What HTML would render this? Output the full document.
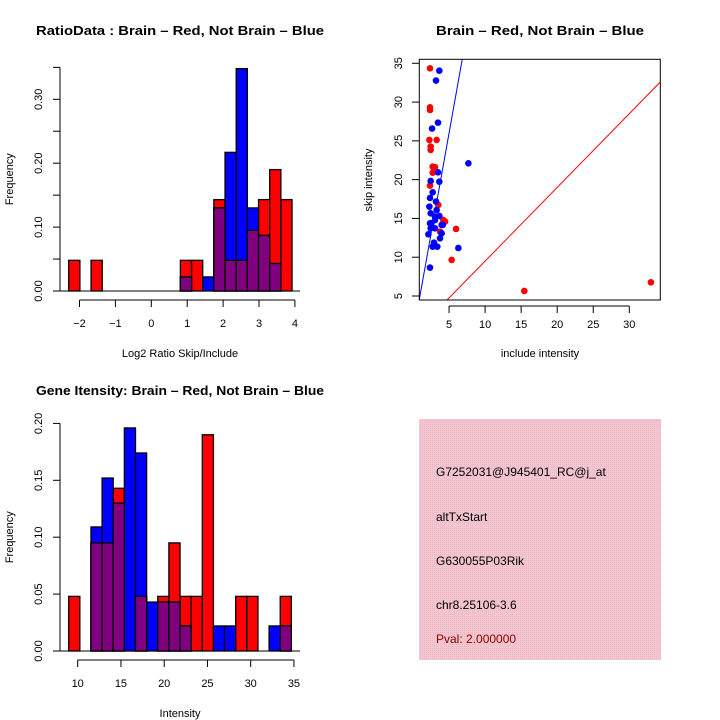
<!DOCTYPE html>
<html><head><meta charset="utf-8"><style>body{margin:0;background:#fff}svg{display:block;font-family:"Liberation Sans",sans-serif}</style></head>
<body>
<svg id="c" width="720" height="720" viewBox="0 0 720 720">
<defs><pattern id="pk" width="2" height="2" patternUnits="userSpaceOnUse"><rect width="2" height="2" fill="#f4c6d0"/><rect width="1" height="1" fill="#eab8c4"/></pattern></defs>
<rect x="419" y="419" width="242" height="241" fill="url(#pk)"/>
<text x="436" y="476" font-size="12">G7252031@J945401_RC@j_at</text>
<text x="436" y="521" font-size="12">altTxStart</text>
<text x="436" y="565" font-size="12">G630055P03Rik</text>
<text x="436" y="609" font-size="12">chr8.25106-3.6</text>
<text x="436" y="643" font-size="12" fill="#8b0000">Pval: 2.000000</text>
</svg>
<script>
// Ratio histogram data
const ratioStart = -2.3, ratioBinW = 0.311;
const ratioRed  = [0.048,0,0.048,0,0,0,0,0,0,0,0.048,0.048,0,0.143,0.048,0.048,0.095,0.143,0.19,0.143];
const ratioBlue = [0,0,0,0,0,0,0,0,0,0,0.022,0,0.022,0.13,0.217,0.348,0.13,0.087,0.043,0];
const ratioXTicks = [-2,-1,0,1,2,3,4];
const ratioYTicks = [0,0.05,0.1,0.15,0.2,0.25,0.3,0.35];
const ratioYLabels = ["0.00","","0.10","","0.20","","0.30",""];
// Intensity histogram data
const intStart = 8.96, intBinW = 1.287;
const intRed  = [0.048,0,0.095,0.095,0.143,0,0.048,0,0.048,0.095,0.048,0.048,0.19,0,0,0.048,0.048,0,0,0.048];
const intBlue = [0,0,0.109,0.152,0.13,0.196,0.174,0.043,0.043,0.043,0.022,0,0,0.022,0.022,0,0,0,0.022,0.022];
const intXTicks = [10,15,20,25,30,35];
const intYTicks = [0,0.05,0.1,0.15,0.2];
const intYLabels = ["0.00","0.05","0.10","0.15","0.20"];
// Scatter data
const redInc  = [2.36,2.36,2.36,2.27,2.45,2.45,3.28,2.73,3.05,2.73,2.36,3.51,4.2,4.44,3.75,5.97,5.36,15.44,33.0];
const redSkip = [34.35,29.33,28.98,25.12,24.26,23.83,25.12,21.68,21.6,20.9,19.23,16.74,14.8,14.59,13.3,13.64,9.65,5.65,6.77];
const blueInc  = [3.65,3.19,3.47,2.64,2.45,3.65,3.47,7.68,2.73,2.36,2.27,3.19,2.45,3.28,3.65,2.55,3.05,3.97,2.45,3.05,2.13,3.97,3.75,2.91,3.37,2.73,6.29,2.36,4.12,3.05,2.36];
const blueSkip = [34.05,32.77,27.35,26.58,19.83,19.74,20.95,22.11,18.37,17.64,16.52,17.17,15.66,16.09,15.32,14.37,14.8,14.16,13.73,13.73,12.95,13.08,12.44,11.88,11.36,11.36,11.19,8.66,14.16,15.23,14.37];
const scXTicks = [5,10,15,20,25,30];
const scYTicks = [5,10,15,20,25,30,35];
const blueSlope = 5.2, redSlope = 0.95;

const svg = document.getElementById('c');
const NS = 'http://www.w3.org/2000/svg';
function mk(tag, attrs, parent){const e=document.createElementNS(NS,tag);for(const k in attrs)e.setAttribute(k,attrs[k]);(parent||svg).appendChild(e);return e;}
function txt(s,x,y,opt){const e=mk('text',Object.assign({x:x,y:y,'font-size':11,'text-anchor':'middle'},opt||{}));e.textContent=s;return e;}

function hist(cfg){
  const sx=v=>cfg.x0+(v-cfg.d0)*cfg.kx, sy=v=>cfg.y0-v*cfg.ky;
  const AX=60;
  const g=mk('g',{});
  
  
  const layers=[[cfg.red,'#ff0000','red'],[cfg.blue,'#0000ff','blue'],[cfg.red.map((r,i)=>Math.min(r,cfg.blue[i])),'#800080','overlap']];
  layers.forEach(([arr,col,nm])=>arr.forEach((v,i)=>{ if(v<=0) return;
    const xa=sx(cfg.start+i*cfg.bw), xb=sx(cfg.start+(i+1)*cfg.bw);
    const r=mk('rect',{x:xa,y:sy(v),width:xb-xa,height:sy(0)-sy(v),fill:col,stroke:'#000','stroke-width':1.3},g);
    
    
  }));
  const yt=cfg.yTicks;
  const ya=mk('g',{});
  
  
  mk('line',{x1:AX,y1:sy(yt[0]),x2:AX,y2:sy(yt[yt.length-1]),stroke:'#000'},ya);
  yt.forEach((v,i)=>{mk('line',{x1:AX-7,y1:sy(v),x2:AX,y2:sy(v),stroke:'#000'},ya);
    if(cfg.yLabels[i]){const t=txt(cfg.yLabels[i],42,sy(v),{transform:`rotate(-90 42 ${sy(v)})`});ya.appendChild(t);}});
  // baseline
  mk('line',{x1:AX,y1:sy(0),x2:cfg.baseEnd,y2:sy(0),stroke:'#000'},g);
  const xa=mk('g',{});
  
  
  const xt=cfg.xTicks;
  mk('line',{x1:sx(xt[0]),y1:cfg.xAxisY,x2:sx(xt[xt.length-1]),y2:cfg.xAxisY,stroke:'#000'},xa);
  xt.forEach(v=>{mk('line',{x1:sx(v),y1:cfg.xAxisY,x2:sx(v),y2:cfg.xAxisY+7,stroke:'#000'},xa);
    xa.appendChild(txt(String(v).replace('-','\u2212'),sx(v),cfg.xAxisY+27));});
  const t=txt(cfg.title,180,cfg.titleY,{'font-weight':'bold','font-size':13,textLength:cfg.titleW,lengthAdjust:'spacingAndGlyphs'});
   
  const xl=txt(cfg.xlab,180,cfg.xlabY,{'font-size':11});
   
  const yl=txt('Frequency',13,(sy(0)+sy(yt[yt.length-1]))/2,{transform:`rotate(-90 13 ${(sy(0)+sy(yt[yt.length-1]))/2})`});
   
}

hist({name:'ratio-histogram',x0:79.5,d0:-2,kx:35.9,y0:291,ky:639,start:ratioStart,bw:ratioBinW,red:ratioRed,blue:ratioBlue,baseEnd:300,
  xTicks:ratioXTicks,yTicks:ratioYTicks,yLabels:ratioYLabels,xAxisY:300,title:'RatioData : Brain \u2013 Red, Not Brain \u2013 Blue',titleY:35,titleW:288,xlab:'Log2 Ratio Skip/Include',xlabY:357});
hist({name:'intensity-histogram',x0:77.7,d0:10,kx:8.65,y0:651,ky:1138,start:intStart,bw:intBinW,red:intRed,blue:intBlue,baseEnd:300,
  xTicks:intXTicks,yTicks:intYTicks,yLabels:intYLabels,xAxisY:660,title:'Gene Itensity: Brain \u2013 Red, Not Brain \u2013 Blue',titleY:395,titleW:288,xlab:'Intensity',xlabY:717});

(function(){
  const L=419.3,R=660.3,T=59.3,B=300;
  const sx=v=>413+v*7.21, sy=v=>296-(v-5)*7.757;
  const g=mk('g',{});
  
  
  const cp=mk('clipPath',{id:'sc'},g); mk('rect',{x:L,y:T,width:R-L,height:B-T},cp);
  const xmin=(L-413)/7.21, xmax=(R-413)/7.21;
  const bl=mk('line',{x1:sx(xmin),y1:sy(blueSlope*xmin),x2:sx(xmax),y2:sy(blueSlope*xmax),stroke:'#0000ff','stroke-width':1,'clip-path':'url(#sc)'},g);
   
  const rl=mk('line',{x1:sx(xmin),y1:sy(redSlope*xmin),x2:sx(xmax),y2:sy(redSlope*xmax),stroke:'#ff0000','stroke-width':1,'clip-path':'url(#sc)'},g);
   
  redInc.forEach((v,i)=>{const c=mk('circle',{cx:sx(v),cy:sy(redSkip[i]),r:3.3,fill:'#ff0000'},g);
     });
  blueInc.forEach((v,i)=>{const c=mk('circle',{cx:sx(v),cy:sy(blueSkip[i]),r:3.3,fill:'#0000ff'},g);
     });
  const bx=mk('rect',{x:L,y:T,width:R-L,height:B-T,fill:'none',stroke:'#000'},g);
   
  const xa=mk('g',{});  
  mk('line',{x1:sx(scXTicks[0]),y1:306,x2:sx(scXTicks[scXTicks.length-1]),y2:306,stroke:'#000'},xa);
  scXTicks.forEach(v=>{mk('line',{x1:sx(v),y1:306,x2:sx(v),y2:313,stroke:'#000'},xa);xa.appendChild(txt(String(v),sx(v),328));});
  const ya=mk('g',{});  
  scYTicks.forEach(v=>{mk('line',{x1:412,y1:sy(v),x2:L,y2:sy(v),stroke:'#000'},ya);ya.appendChild(txt(String(v),402,sy(v),{transform:`rotate(-90 402 ${sy(v)})`}));});
  const t=txt('Brain \u2013 Red, Not Brain \u2013 Blue',540,35,{'font-weight':'bold','font-size':13,textLength:208,lengthAdjust:'spacingAndGlyphs'});
   
  const xl=txt('include intensity',540,357);  
  const yl=txt('skip intensity',372,180,{transform:'rotate(-90 372 180)'});  
})();
</script>
</body></html>
